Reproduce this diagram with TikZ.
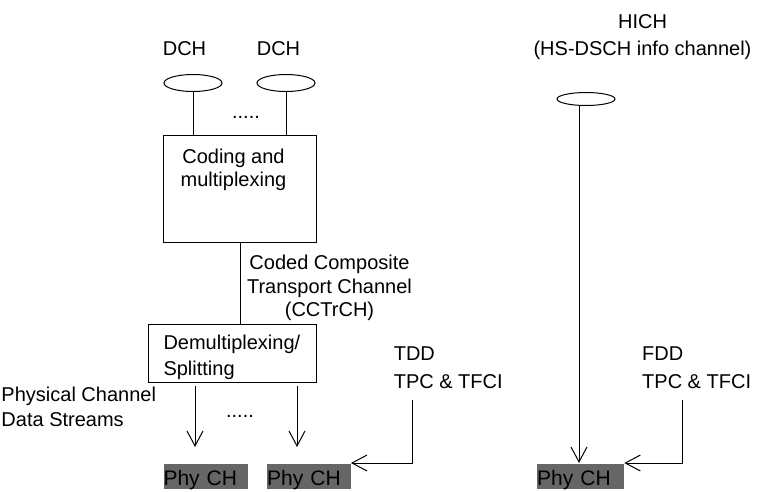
\documentclass[tikz,border=0pt]{standalone}
\usepackage{fontspec}
\setmainfont{Liberation Sans}
\usepackage{tikz}
\usetikzlibrary{arrows.meta,shapes.geometric,positioning}
\definecolor{phygray}{RGB}{102,102,102}

\begin{document}
\begin{tikzpicture}[x=1pt, y=-1pt, line width=1pt,
    every node/.style={font=\fontsize{20}{23.5}\selectfont, inner sep=0pt},
    chan/.style={draw, ellipse, minimum width=58pt, minimum height=17pt},
    block/.style={draw, rectangle},
    phy/.style={fill=phygray, anchor=north west, font=\fontsize{21}{24}\selectfont, text width=84pt, align=left, text height=22pt, text depth=3pt},
    barb/.style={-{Straight Barb[length=15pt, width=16pt]}}]

        \useasboundingbox (0,0) rectangle (763,491);

        % DCH transport channels
        \node[chan] (dchA) at (193,83) {};
        \node[chan] (dchB) at (286,83) {};
        \node[anchor=base] (dchAlbl) at (184.5,55) {DCH};
        \node[anchor=base] (dchBlbl) at (278.5,55) {DCH};
        \node[anchor=base] (dchdots) at (246,118) {.....};

        % Coding and multiplexing
        \node[block, minimum width=153.4pt, minimum height=106.7pt] (coding) at (240,189.3) {};
        \node[anchor=base, align=center] (codingtxt) at (233.5,186.7) {Coding and\\multiplexing};
        \draw (dchA) -- (dchA |- coding.north);
        \draw (dchB) -- (dchB |- coding.north);

        % Demultiplexing / splitting
        \node[block, minimum width=168.4pt, minimum height=58.4pt] (demux) at (232.5,353.5) {};
        \node[anchor=base west, align=left] (demuxtxt) at (163,375.7) {Demultiplexing/\\[3pt]Splitting};
        \draw (coding.south) -- (coding.south |- demux.north);

        % CCTrCH
        \node[anchor=base, align=center] (cctrch) at (329.5,316.7) {Coded Composite\\Transport Channel\\(CCTrCH)};

        % Physical channels
        \node[phy] (phyA) at (163,463) {Phy CH};
        \node[phy, text width=83.3pt] (phyB) at (266.7,463) {Phy CH};
        \node[phy, text width=86.6pt] (phyC) at (536.7,463) {Phy CH};

        % Data streams
        \coordinate (streamA) at (195,447);
        \coordinate (streamB) at (297,447);
        \draw[barb, shorten <=3pt] (streamA |- demux.south) -- (streamA);
        \draw[barb, shorten <=3pt] (streamB |- demux.south) -- (streamB);
        \node[anchor=base] (streamdots) at (240,417) {.....};
        \node[anchor=base west, align=left] (streamlbl) at (1,426.7) {Physical Channel\\[1.5pt]Data Streams};

        % TDD TPC & TFCI
        \node[anchor=base west, align=left] (tdd) at (393.3,388) {TDD\\[4.5pt]TPC \& TFCI};
        \coordinate (tddsrc) at (412.3,400);
        \draw[barb] (tddsrc) |- (phyB.north east);

        % FDD TPC & TFCI
        \node[anchor=base west, align=left] (fdd) at (641.7,388) {FDD\\[4.5pt]TPC \& TFCI};
        \coordinate (fddsrc) at (682.7,400);
        \draw[barb] (fddsrc) |- (phyC.north east);

        % HICH
        \node[anchor=base, align=center] (hichlbl) at (642.5,55) {HICH\\[3pt](HS-DSCH info channel)};
        \node[chan, minimum height=13pt] (hich) at (586,99) {};
        \coordinate (hichtap) at ([xshift=-7pt]hich.south);
        \draw[barb] (hichtap) -- (hichtap |- phyC.north);

\end{tikzpicture}
\end{document}
